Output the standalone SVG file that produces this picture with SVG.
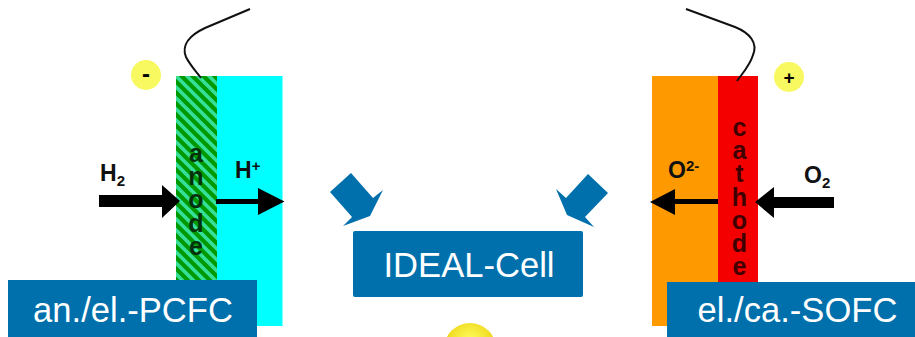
<svg xmlns="http://www.w3.org/2000/svg" width="915" height="337" viewBox="0 0 915 337">
<defs>
<pattern id="hatch" width="11" height="11" patternUnits="userSpaceOnUse" patternTransform="translate(176 76)">
<rect width="11" height="11" fill="#009a00"/>
<path d="M-3 -3L14 14M-3 8L3 14M8 -3L14 3" stroke="#35e09a" stroke-width="3.600" fill="none"/>
</pattern>
<radialGradient id="bulb" cx="50%" cy="35%" r="65%"><stop offset="0" stop-color="#ffff60"/><stop offset="1" stop-color="#e8c800"/></radialGradient>
</defs>
<style>
text{font-family:"Liberation Sans",Arial,sans-serif}
.b{font-weight:700;fill:#111;font-size:23px}
.v{font-weight:700;font-size:25px;writing-mode:vertical-rl;text-orientation:upright;letter-spacing:-4.800px}
.l{fill:#fff;font-size:34.600px;text-anchor:middle}
.box{fill:#0070ac}
.w{fill:none;stroke:#111;stroke-width:2}
.sm{font-size:15px}
</style>
<rect width="915" height="337" fill="#fff"/>
<g id="anode-cell">
<rect x="217" y="76" width="65.500" height="250" fill="#00ffff"/>
<rect x="176" y="76" width="41" height="250" fill="url(#hatch)"/>
<text class="v" x="196" y="139" fill="#04300c">anode</text>
</g>
<g id="cathode-cell">
<rect x="652" y="76" width="66" height="250" fill="#ff9900"/>
<rect x="718" y="76" width="40" height="250" fill="#f40000"/>
<text class="v" x="739.500" y="113" fill="#400000">cathode</text>
</g>
<g id="minus"><circle cx="146" cy="75" r="15" fill="#f8f860"/><text x="146" y="82" text-anchor="middle" style="font-weight:700;font-size:24px">-</text></g>
<g id="plus"><circle cx="789" cy="77" r="15" fill="#f8f860"/><text x="789" y="84" text-anchor="middle" style="font-weight:700;font-size:19px">+</text></g>
<g id="connectors">
<path class="w" d="M250 9L205 28C190 35 181 45 186 57C190 65 195 70 201 78"/>
<path class="w" d="M686 9L735 27C750 33 758 43 753 55C750 65 745 70 737 81"/>
<path d="M99 195H162V185L180 201L162 218V207H99Z" fill="#000"/>
<path d="M216 199H258V188L284.500 201.500L258 215V204H216Z" fill="#000"/>
<path d="M718 199H675V189L650 202L675 215V204H718Z" fill="#000"/>
<path d="M834 197H774V187L755 202L774 218V208H834Z" fill="#000"/>
<path class="box" d="M351 173L373 198L383 190L370 216L343 226L352 217L330 192Z"/>
<path class="box" d="M588 174L608 193L585 217L594 227L567 215L556 189L566 198Z"/>
</g>
<g id="labels">
<text class="b" x="100" y="181">H<tspan class="sm" dy="5">2</tspan></text>
<text class="b" x="235" y="178">H<tspan class="sm" dy="-7">+</tspan></text>
<text class="b" x="668" y="178">O<tspan class="sm" dy="-7">2-</tspan></text>
<text class="b" x="804" y="183">O<tspan class="sm" dy="5">2</tspan></text>
</g>
<g id="pcfc"><rect class="box" x="8" y="280" width="249" height="57"/><text class="l" x="133" y="322">an./el.-PCFC</text></g>
<g id="sofc"><rect class="box" x="667" y="282" width="248" height="55"/><text class="l" x="797.500" y="322">el./ca.-SOFC</text></g>
<g id="ideal"><rect class="box" x="353" y="231" width="230" height="66" rx="2"/><text class="l" x="469" y="277">IDEAL-Cell</text></g>
<g id="bulb-top"><circle cx="470" cy="349" r="26" fill="url(#bulb)"/></g>
</svg>
